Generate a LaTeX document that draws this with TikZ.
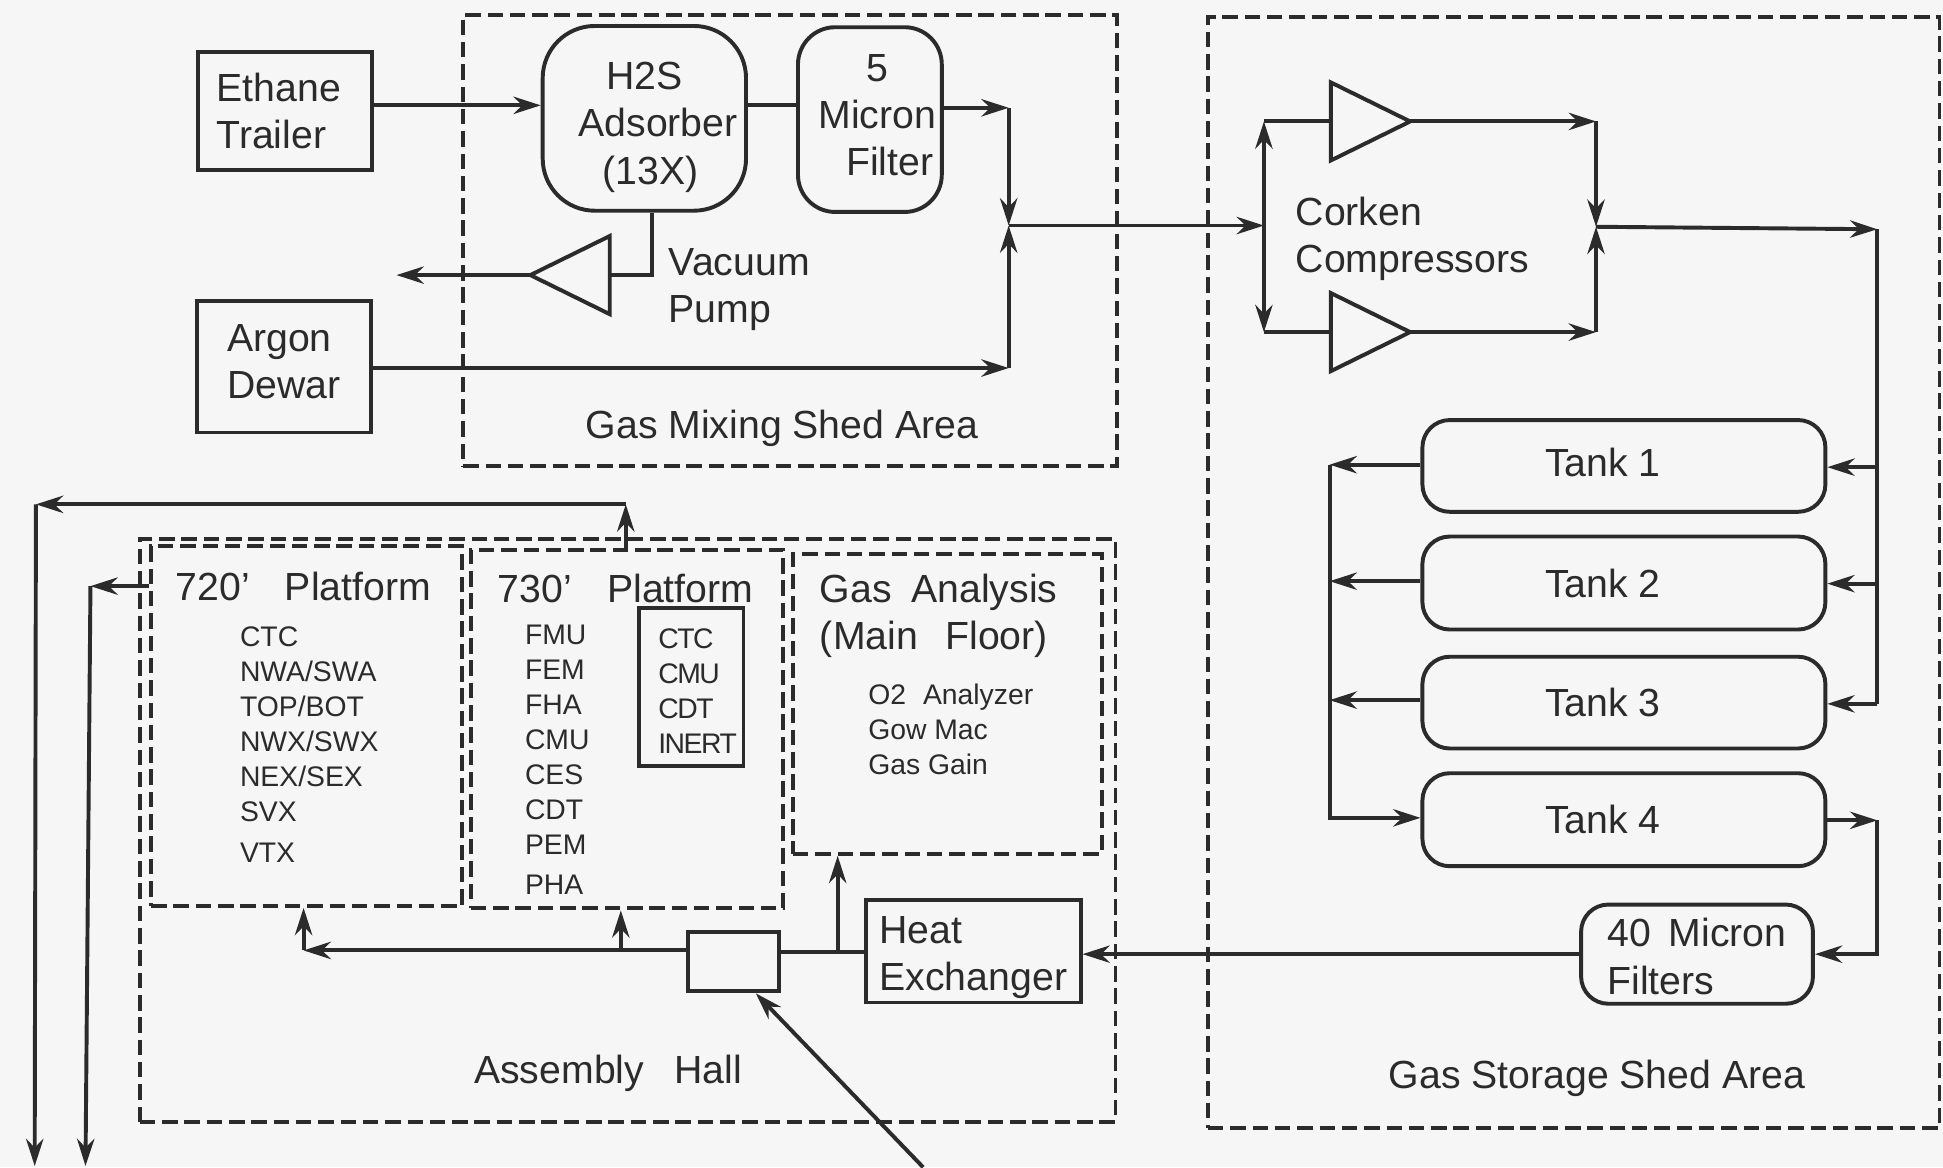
\documentclass[tikz,border=0pt]{standalone}
\usepackage{fontspec}
\setmainfont{Liberation Sans}
\usetikzlibrary{arrows.meta,shapes.geometric}
\definecolor{ink}{gray}{0.17}
\definecolor{paper}{gray}{0.965}
\tikzstyle{bag} = [draw=ink, line width=0.9pt, inner sep=0pt, text=ink, align=left, font=\fontsize{9}{10.8}\selectfont]
\tikzstyle{pot} = [bag, rounded corners=0.3cm]
\tikzstyle{area} = [draw=ink, line width=0.9pt, dash pattern=on 0.125cm off 0.055cm, inner sep=0pt]
\tikzstyle{word} = [inner sep=0pt, text=ink, align=left, anchor=west, font=\fontsize{9}{10.8}\selectfont]
\tikzstyle{list} = [inner sep=0pt, text=ink, align=left, font=\fontsize{6.5}{8.03}\selectfont]
\tikzstyle{pump} = [draw=ink, line width=0.9pt, isosceles triangle, isosceles triangle stretches, inner sep=0pt, outer sep=0pt, minimum width=0.63cm, minimum height=0.64cm]
\tikzstyle{flow} = [draw=ink, line width=0.9pt, -{Stealth[length=0.22cm,width=0.14cm]}]
\tikzstyle{pipe} = [draw=ink, line width=0.9pt]

\begin{document}
\begin{tikzpicture}[x=0.01cm, y=-0.01cm]
\fill[paper] (0,0) rectangle (1568,942);
\useasboundingbox (0,0) rectangle (1568,942);
%begin areas
\node[area, minimum width=5.27cm, minimum height=3.64cm] (mixarea) at (637.5,194) {};
\node[area, minimum width=5.90cm, minimum height=8.96cm] (storearea) at (1270,462) {};
\node[area, minimum width=7.87cm, minimum height=4.70cm] (hallarea) at (506.5,670) {};
\node[area, minimum width=2.51cm, minimum height=2.90cm] (lowplat) at (247.5,586) {};
\node[area, minimum width=2.52cm, minimum height=2.89cm] (highplat) at (506,588.5) {};
\node[area, minimum width=2.49cm, minimum height=2.42cm] (analysis) at (764.5,568) {};
\node[word] (mixname) at (472,346) {Gas  Mixing Shed Area};
\node[word] (storename) at (1120,870) {Gas Storage Shed Area};
\node[word] (hallname) at (382,866) {Assembly\hspace{0.5em} Hall};
%end areas
%begin gas mixing
\node[bag, minimum width=1.40cm, minimum height=0.95cm] (ethane) at (230,89.5) {Ethane\\Trailer\hspace*{0.22cm}};
\node[bag, minimum width=1.40cm, minimum height=1.06cm] (argon) at (229,296) {Argon\\Dewar\rule[-2.3pt]{0pt}{2.3pt}};
\node[pot, rounded corners=0.42cm, align=center, minimum width=1.64cm, minimum height=1.49cm] (adsorber) at (520,95.5) {\rule{0pt}{10.4pt}H2S\\\hspace*{0.22cm}Adsorber\\\hspace*{0.1cm}(13X)};
\node[pot, align=center, minimum width=1.16cm, minimum height=1.49cm] (filter) at (702,96.5) {\hspace*{0.12cm}5\\\hspace*{0.12cm}Micron\\\hspace*{0.32cm}Filter\rule[-2.3pt]{0pt}{2.3pt}};
\node[pump, shape border rotate=180, anchor=apex] (vacuum) at (428,222) {};
\node[word] (vacname) at (539,234) {Vacuum\\Pump};
\coordinate (inlet) at (0,85);
\coordinate (argonline) at (0,297);
\coordinate (mixtop) at (814,87);
\coordinate (mixjoin) at (814,182);
\coordinate (mixlow) at (814,297);
\coordinate (pumpbend) at (526,222);
\coordinate (vent) at (320,222);
\draw[flow] (ethane.east |- inlet) -- (adsorber.west |- inlet);
\draw[pipe] (adsorber.east |- inlet) -- (filter.west |- inlet);
\draw[flow] (filter.east |- mixtop) -- (mixtop);
\draw[flow] (mixtop) -- (mixjoin);
\draw[flow] (argon.east |- argonline) -- (mixlow);
\draw[flow] (mixlow) -- (mixjoin);
\draw[pipe] (adsorber.south -| pumpbend) -- (pumpbend) -- (vacuum.lower side);
\draw[flow] (vacuum.apex) -- (vent);
%end gas mixing
%begin compressors
\node[pump, anchor=apex] (upcomp) at (1138,98) {};
\node[pump, anchor=apex] (lowcomp) at (1138,268) {};
\node[word] (compname) at (1045,193) {Corken\\Compressors};
\coordinate (feed) at (1020,182);
\coordinate (feedtop) at (1020,98);
\coordinate (feedlow) at (1020,268);
\coordinate (outtop) at (1288,98);
\coordinate (outjoin) at (1288,183);
\coordinate (outlow) at (1288,268);
\coordinate (ringtop) at (1515,185);
\draw[flow] (mixjoin) -- (feed);
\draw[flow] (feed) -- (feedtop);
\draw[flow] (feed) -- (feedlow);
\draw[pipe] (feedtop) -- (upcomp.lower side);
\draw[pipe] (feedlow) -- (lowcomp.lower side);
\draw[flow] (upcomp.apex) -- (outtop);
\draw[flow] (lowcomp.apex) -- (outlow);
\draw[flow] (outtop) -- (outjoin);
\draw[flow] (outlow) -- (outjoin);
\draw[flow] (outjoin) -- (ringtop);
%end compressors
%begin tanks
\node[pot, align=center, rounded corners=0.22cm, minimum width=3.25cm, minimum height=0.74cm] (tankone) at (1310.5,376) {Tank  1\hspace*{0.34cm}\rule[-1.7pt]{0pt}{1.7pt}};
\node[pot, align=center, rounded corners=0.22cm, minimum width=3.25cm, minimum height=0.75cm] (tanktwo) at (1310.5,470.5) {Tank  2\hspace*{0.34cm}};
\node[pot, align=center, rounded corners=0.22cm, minimum width=3.25cm, minimum height=0.74cm] (tankthree) at (1310.5,567) {Tank  3\hspace*{0.34cm}};
\node[pot, align=center, rounded corners=0.22cm, minimum width=3.25cm, minimum height=0.75cm] (tankfour) at (1310.5,661.5) {Tank  4\hspace*{0.34cm}};
\node[pot, rounded corners=0.22cm, minimum width=1.87cm, minimum height=0.80cm] (coarse) at (1369.5,770) {\rule{0pt}{7.6pt}40\hspace{0.45em}Micron\\Filters};
\coordinate (busone) at (1073,375);
\coordinate (bustwo) at (1073,469);
\coordinate (busthree) at (1073,565);
\coordinate (busfour) at (1073,660);
\coordinate (ringone) at (1515,377);
\coordinate (ringtwo) at (1515,471);
\coordinate (ringthree) at (1515,568);
\coordinate (ringfour) at (1515,662);
\coordinate (ringlow) at (1515,770);
\draw[pipe] (ringtop) -- (ringthree);
\draw[flow] (ringone) -- (tankone.east |- ringone);
\draw[flow] (ringtwo) -- (tanktwo.east |- ringtwo);
\draw[flow] (ringthree) -- (tankthree.east |- ringthree);
\draw[flow] (tankone.west |- busone) -- (busone);
\draw[flow] (tanktwo.west |- bustwo) -- (bustwo);
\draw[flow] (tankthree.west |- busthree) -- (busthree);
\draw[flow] (busone) -- (busfour) -- (tankfour.west |- busfour);
\draw[flow] (tankfour.east |- ringfour) -- (ringfour);
\draw[flow] (ringfour) -- (ringlow) -- (coarse.east |- ringlow);
%end tanks
%begin assembly hall
\node[bag, minimum width=1.73cm, minimum height=0.83cm] (exchanger) at (785.5,767.5) {\rule{0pt}{9.2pt}Heat\\Exchanger};
\node[bag, minimum width=0.74cm, minimum height=0.48cm] (valve) at (592,776) {};
\node[word] (lowtitle) at (141,473) {720'\hspace{0.9em}Platform};
\node[word] (hightitle) at (401,475) {730'\hspace{0.9em}Platform};
\node[word] (gastitle) at (661,497) {Gas\hspace{0.5em}Analysis\\(Main\hspace{0.7em}Floor)};
\node[list, anchor=north west] (lowlist) at (193,505) {CTC\\NWA/SWA\\TOP/BOT\\NWX/SWX\\NEX/SEX\\SVX\\[1.3pt]VTX};
\node[list, anchor=north west] (highlist) at (423,504) {FMU\\FEM\\FHA\\CMU\\CES\\CDT\\PEM\\[1.1pt]PHA};
\node[bag, list, draw=ink, line width=0.9pt, font=\fontsize{6.5}{8.03}\selectfont\addfontfeature{LetterSpace=-5}, minimum width=0.84cm, minimum height=1.27cm] (inert) at (558,554.5) {\rule{0pt}{6.4pt}\hspace*{0.1cm}CTC\\\hspace*{0.1cm}CMU\\\hspace*{0.1cm}CDT\\\hspace*{0.1cm}INERT};
\node[list, anchor=north west] (gaslist) at (700,551) {O2\hspace{0.6em}Analyzer\\Gow Mac\\Gas Gain};
\coordinate (hallline) at (0,767);
\coordinate (lowbend) at (245,767);
\coordinate (hightap) at (501,767);
\coordinate (gastap) at (676,768);
\coordinate (topbend) at (505,407);
\coordinate (farleft) at (29,407);
\coordinate (farend) at (28,941);
\coordinate (nearbend) at (73,473);
\coordinate (nearend) at (69,941);
\coordinate (supply) at (745,942);
\draw[flow] (coarse.west |- ringlow) -- (exchanger.east |- ringlow);
\draw[pipe] (valve.east |- gastap) -- (exchanger.west |- gastap);
\draw[flow] (gastap) -- (gastap |- analysis.south);
\draw[flow] (valve.west |- hallline) -- (lowbend);
\draw[flow] (lowbend) -- (lowbend |- lowplat.south);
\draw[flow] (hightap) -- (hightap |- highplat.south);
\draw[flow] (supply) -- (valve.-55);
\draw[flow] (topbend |- highplat.north) -- (topbend);
\draw[flow] (topbend) -- (farleft);
\draw[flow] (farleft) -- (farend);
\draw[flow] (lowplat.west |- nearbend) -- (nearbend);
\draw[flow] (nearbend) -- (nearend);
%end assembly hall
\end{tikzpicture}
\end{document}
